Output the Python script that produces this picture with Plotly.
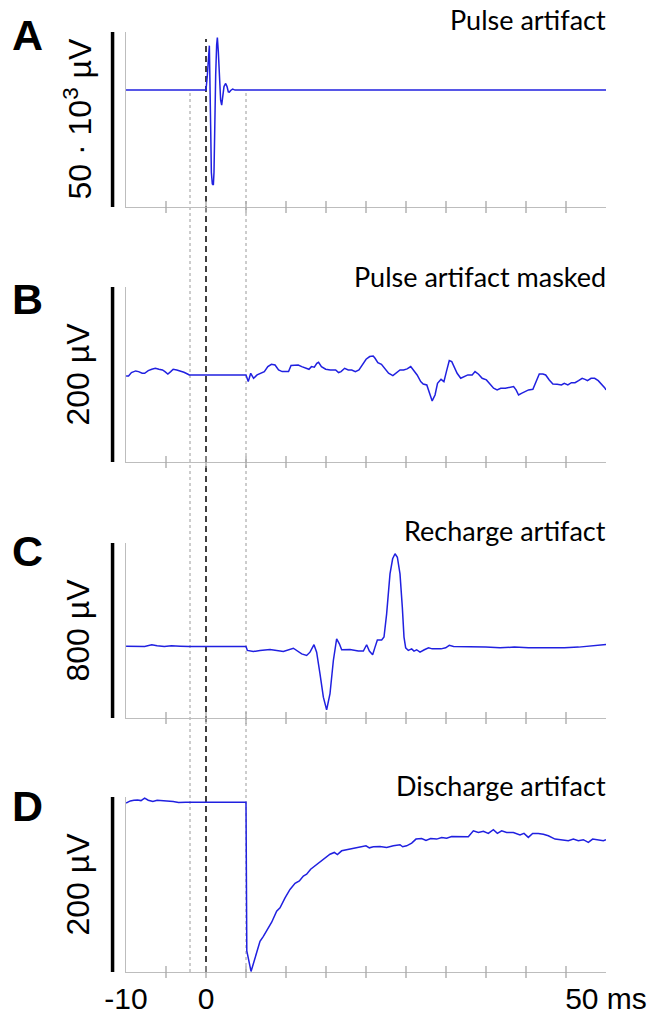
import plotly.graph_objects as go

# ---------------- data (time in ms, amplitude in µV; panel A in 10^3 µV) ----------------
time_A = [-10, 0, 0.17, 0.42, 0.58, 0.67, 0.79, 0.92, 1.0, 1.08, 1.21, 1.33, 1.42, 1.54,
          1.67, 1.83, 1.96, 2.08, 2.25, 2.46, 2.63, 2.79, 2.92, 3.08, 3.33, 3.63, 50]
pulse_A = [0, 0, 4.3, 12.7, -10.1, -23.5, -26.8, -27.1, -23.5, -10.1, 4.3, 12.9, 15.0, 11.0,
           3.4, -2.9, -4.3, -2.4, 1.0, 1.9, 1.0, -0.5, -0.6, -0.1, 0.3, 0, 0]

time_B = [-9.99, -9.68, -9.32, -8.79, -8.43, -7.98, -7.67, -7.22, -6.78, -6.33,
          -5.88, -5.44, -5.13, -4.77, -4.41, -4.10, -3.65, -3.21, -2.76, -2.31,
          -2.09, 5.0, 5.14, 5.28, 5.59, 5.95, 6.39, 6.84, 7.29, 7.73,
          8.18, 8.63, 9.07, 9.52, 9.96, 10.32, 10.63, 11.08, 11.53, 11.97,
          12.42, 12.87, 13.18, 13.54, 13.85, 14.07, 14.43, 14.96, 15.54, 16.21,
          16.57, 16.88, 17.33, 17.78, 18.22, 18.67, 19.12, 19.56, 20.01, 20.46,
          20.90, 21.13, 21.48, 21.93, 22.38, 22.82, 23.36, 23.80, 24.25, 24.70,
          25.14, 25.59, 25.95, 26.39, 26.84, 27.15, 27.60, 27.91, 28.27, 28.63,
          28.94, 29.38, 29.74, 30.05, 30.41, 30.72, 31.04, 31.39, 31.84, 32.29,
          32.73, 33.27, 33.63, 34.07, 34.52, 35.05, 35.50, 35.95, 36.39, 36.84,
          37.42, 37.87, 38.45, 38.76, 39.07, 39.43, 39.88, 40.32, 40.86, 41.30,
          41.66, 42.11, 42.46, 42.91, 43.36, 43.89, 44.43, 44.79, 45.23, 45.68,
          46.13, 46.57, 47.02, 47.38, 47.69, 48.13, 48.58, 49.03, 49.47, 49.83,
          50.0]
masked_B = [-1.1, -1.1, 2.7, 4.6, 3.8, 1.9, 1.9, 5.0, 6.5, 7.6,
            6.5, 5.7, 3.8, 1.1, 3.8, 6.5, 5.7, 4.6, 3.0, 1.1,
            0, 0, -5.0, -7.6, 1.9, -3.8, 0, 1.9, 3.8, 9.5,
            12.2, 11.4, 5.7, 3.8, 3.8, 3.8, 10.7, 11.4, 11.4, 9.5,
            7.6, 6.5, 9.5, 8.8, 13.3, 14.5, 9.5, 6.5, 5.7, 5.7,
            2.7, 3.8, 7.6, 5.7, 5.7, 3.8, 5.7, 11.4, 17.9, 21.0,
            21.7, 19.1, 14.1, 12.2, 7.6, 1.9, -0.8, 1.9, 5.7, 5.7,
            6.9, 9.5, 5.7, 0, -7.6, -10.3, -11.4, -20.2, -29.7, -22.9,
            -9.5, -5.0, -7.6, 3.8, 16.4, 15.2, 8.8, 1.9, -3.8, -1.9,
            0, 0, 3.8, 0.8, -3.8, -5.7, -10.3, -15.2, -17.1, -15.2,
            -15.2, -14.5, -13.3, -17.1, -22.9, -21.0, -19.1, -17.1, -16.4, -7.6,
            1.1, 1.1, 0, -5.7, -10.3, -10.7, -11.4, -9.5, -11.4, -8.8,
            -8.8, -6.5, -3.8, -5.0, -6.5, -3.8, -3.8, -6.5, -10.3, -14.5,
            -17.1]

time_C = [-9.99, -8.79, -7.67, -6.78, -6.11, -5.21, -4.32, -3.21, -2.09, 5.0,
          5.17, 5.92, 6.75, 8.0, 9.67, 10.92, 11.96, 12.58, 13.0, 13.5,
          13.83, 14.25, 14.67, 15.08, 15.5, 15.92, 16.33, 16.67, 16.96, 18.0,
          19.04, 19.67, 20.08, 20.42, 20.83, 21.13, 21.42, 21.96, 22.25, 22.58,
          23.0, 23.33, 23.63, 23.92, 24.25, 24.54, 24.75, 24.96, 25.29, 25.71,
          26.0, 26.33, 26.75, 27.29, 27.82, 28.27, 28.71, 29.38, 29.96, 30.41,
          30.95, 31.84, 33.18, 34.96, 36.75, 38.54, 40.32, 42.11, 43.45, 44.79,
          46.57, 48.36, 50.0]
recharge_C = [1.5, 0, 0, 8, 3, 0, 3, 1.5, 0, 0,
              -18, -23, -18, -14, -23, -8, -34, -41, -26, 8,
              -26, -125, -232, -290, -216, -64, 35, 12, -15, -14,
              -21, -21, 8, -21, -38, -3, 30, 30, 43, 149,
              332, 401, 424, 408, 332, 180, 43, -6, -18, -11,
              -21, -15, -26, -15, -6, -11, -11, -11, -6, 5,
              0, 0, 0, -3, -6, -3, -6, -6, -8, -6,
              -3, 5, 9]

time_D = [-9.99, -9.46, -9.01, -8.56, -8.12, -7.67, -7.22, -6.64, -6.11, -4.99,
          -4.10, -3.43, -2.54, 5.0, 5.1, 5.63, 5.92, 6.33, 6.75, 7.17,
          7.79, 8.21, 8.83, 9.25, 9.88, 10.5, 11.13, 11.67, 12.17, 12.58,
          13.08, 13.63, 14.25, 14.88, 15.5, 16.04, 16.42, 16.96, 17.58, 18.42,
          19.25, 20.0, 20.42, 20.92, 21.75, 22.58, 23.42, 24.25, 24.58, 25.08,
          25.71, 26.25, 26.96, 27.5, 28.08, 28.83, 29.46, 30.08, 30.71, 31.54,
          32.17, 32.79, 33.42, 34.04, 34.67, 35.29, 35.92, 36.42, 36.96, 37.58,
          38.42, 39.25, 39.75, 40.29, 40.83, 41.54, 42.17, 42.79, 43.63, 44.46,
          45.29, 45.92, 46.54, 47.17, 47.79, 48.33, 49.04, 49.67, 50.0]
discharge_D = [-0.8, 1.5, 2.3, 2.7, 1.9, 4.6, 2.3, 0.8, 2.3, 1.9,
               0.8, -0.4, 0, 0, -170, -193.4, -183.8, -172.4, -158.9, -153.2,
               -143.6, -137.1, -124.5, -120.7, -109.2, -99.6, -92.7, -90.0, -84.3, -82.3,
               -76.6, -72.8, -68.2, -63.2, -59.4, -57.4, -59.8, -55.5, -54.4, -52.8,
               -51.3, -49.8, -52.1, -50.9, -50.6, -51.7, -49.8, -48.6, -50.9, -49.8,
               -46.7, -42.1, -41.4, -43.7, -41.4, -42.1, -40.2, -41.0, -39.1, -39.5,
               -39.1, -39.5, -32.6, -34.5, -33.3, -35.6, -31.4, -35.6, -32.6, -34.5,
               -34.5, -37.5, -35.6, -40.2, -35.6, -35.6, -36.6, -38.3, -42.1, -42.8,
               -43.9, -42.1, -43.9, -42.8, -45.9, -42.1, -43.2, -43.9, -42.8]

panel_letters = ["A", "B", "C", "D"]
panel_titles = ["Pulse artifact", "Pulse artifact masked", "Recharge artifact", "Discharge artifact"]
scale_labels = ["50 · 10<sup>3</sup> µV", "200 µV", "800 µV", "200 µV"]
y_ranges = [[-33.4, 16.6], [-99.5, 100.5], [-327, 473], [-194, 6]]

x_range = [-10, 50]
tick_ms = [-5, 0, 5, 10, 15, 20, 25, 30, 35, 40, 45]
label_ms = [-10, 0, 50]
label_text = ["-10", "0", "50 ms"]
stim_ms = 0
mask_ms = [-2, 5]

# ---------------- layout geometry / style ----------------
W, H = 666, 1014
ML, MR, MT, MB = 126, 60, 32, 42
domains = [[0.81383, 1.0], [0.54255, 0.72872], [0.27021, 0.45638], [0.0, 0.18617]]
letter_y = [0.99681, 0.71543, 0.44787, 0.17660]
title_y = [1.0128, 0.7394, 0.4702, 0.1989]

LINE_BLUE = "#2020e0"
AXIS_GRAY = "#bdbdbd"
SANS = "Liberation Sans, Arial, sans-serif"
TITLE_FONT = "Lato, Calibri, sans-serif"

series = [(time_A, pulse_A), (time_B, masked_B), (time_C, recharge_C), (time_D, discharge_D)]

fig = go.Figure()
layout = dict(width=W, height=H, margin=dict(l=ML, r=MR, t=MT, b=MB, autoexpand=False),
              paper_bgcolor="white", plot_bgcolor="rgba(0,0,0,0)", showlegend=False)
shapes, annotations = [], []

for i in range(4):
    sx = "" if i == 0 else str(i + 1)
    xa, ya = "x" + sx, "y" + sx
    t, v = series[i]
    fig.add_trace(go.Scatter(x=t, y=v, mode="lines", xaxis=xa, yaxis=ya,
                             line=dict(color=LINE_BLUE, width=1.5), hoverinfo="skip"))
    last = i == 3
    xaxis = dict(domain=[0, 1], range=x_range, anchor=ya, showgrid=False, automargin=False,
                 zeroline=False, showline=True, linecolor=AXIS_GRAY, linewidth=1.3,
                 ticks="", showticklabels=last)
    if last:
        xaxis.update(tickmode="array", tickvals=label_ms, ticktext=label_text,
                     tickfont=dict(family=SANS, size=30, color="black"), ticklabelstandoff=0)
    layout["xaxis" + sx] = xaxis
    layout["yaxis" + sx] = dict(domain=domains[i], range=y_ranges[i], anchor=xa, showgrid=False,
                                automargin=False, zeroline=False, showline=True,
                                linecolor=AXIS_GRAY, linewidth=1.3,
                                ticks="", showticklabels=False)
    # crossing tick marks
    for tv in tick_ms:
        shapes.append(dict(type="line", xref=xa, yref=ya + " domain", x0=tv, x1=tv,
                           y0=-0.034, y1=0.034, line=dict(color="#a8a8a8", width=1.3)))
    # scale bar
    shapes.append(dict(type="line", xref=xa + " domain", yref=ya + " domain",
                       x0=-0.028, x1=-0.028, y0=0, y1=1, line=dict(color="black", width=3.5)))
    # scale label
    annotations.append(dict(text=scale_labels[i], xref=xa + " domain", yref=ya + " domain",
                            x=-0.1, y=0.5, textangle=-90, showarrow=False,
                            xanchor="center", yanchor="middle",
                            font=dict(family=SANS, size=32, color="black")))
    # panel letter
    annotations.append(dict(text="<b>%s</b>" % panel_letters[i], xref="paper", yref="paper",
                            x=-0.2042, y=letter_y[i], showarrow=False,
                            xanchor="center", yanchor="middle",
                            font=dict(family=SANS, size=43, color="black")))
    # panel title
    annotations.append(dict(text=panel_titles[i], xref="paper", yref="paper",
                            x=1.004, y=title_y[i], showarrow=False,
                            xanchor="right", yanchor="middle",
                            font=dict(family=TITLE_FONT, size=27, color="black")))

# vertical reference lines through all panels
shapes.append(dict(type="line", xref="x", yref="paper", x0=stim_ms, x1=stim_ms, y0=0, y1=0.9926,
                   layer="below", line=dict(color="black", width=1.5, dash="6px,4px")))
for m in mask_ms:
    shapes.append(dict(type="line", xref="x", yref="paper", x0=m, x1=m, y0=0, y1=0.938,
                       layer="below", line=dict(color="#9a9a9a", width=1, dash="dot")))

layout["shapes"] = shapes
layout["annotations"] = annotations
fig.update_layout(**layout)
fig.write_html("out.html")
